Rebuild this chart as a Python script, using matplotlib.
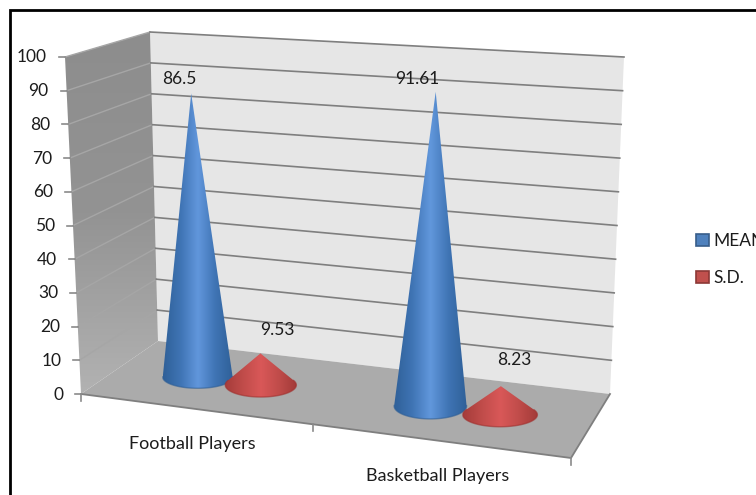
import numpy as np
import matplotlib
matplotlib.use('Agg')
import matplotlib.pyplot as plt
from matplotlib.colors import LinearSegmentedColormap
from matplotlib.patches import Polygon, PathPatch, Rectangle
from matplotlib.path import Path

categories = ['Football Players', 'Basketball Players']
series_names = ['MEAN', 'S.D.']
mean_values = [86.5, 91.61]
sd_values = [9.53, 8.23]
y_ticks = [0, 10, 20, 30, 40, 50, 60, 70, 80, 90, 100]

plt.rcParams['font.family'] = ['Lato', 'DejaVu Sans']
TEXT = '#1c1c1c'

# box corners in pixels: (floor point at value 0, same corner at value 100)
FRONT_LEFT = (np.array([81, 394.]), np.array([65, 57.]))
FRONT_RIGHT = (np.array([571, 458.]), np.array([587, 88.]))
BACK_LEFT = (np.array([158, 341.]), np.array([150, 32.]))
BACK_RIGHT = (np.array([610, 394.]), np.array([624, 57.]))


def project(u, d, v):
    # u runs along the category axis, d goes into the depth, v is the value
    t = v / 100
    pts = []
    for level in (0, 1):
        front = FRONT_LEFT[level] * (1 - u) + FRONT_RIGHT[level] * u
        back = BACK_LEFT[level] * (1 - u) + BACK_RIGHT[level] * u
        pts.append(front * (1 - d) + back * d)
    return pts[0] * (1 - t) + pts[1] * t


def gradient_fill(ax, path, cmap, vertical=False, zorder=2):
    x0, y0 = path.vertices.min(axis=0)
    x1, y1 = path.vertices.max(axis=0)
    ramp = np.linspace(0, 1, 256)
    ramp = ramp[:, None] if vertical else ramp[None, :]
    im = ax.imshow(ramp, cmap=cmap, vmin=0, vmax=1, aspect='auto',
                   extent=(x0, x1, y1, y0), zorder=zorder, interpolation='bilinear')
    clip = PathPatch(path, transform=ax.transData, fc='none', ec='none')
    ax.add_patch(clip)
    im.set_clip_path(clip)


def draw_cone(ax, u, value, rx, ry, cmap, edge, zorder):
    base = project(u, 0.5, 0)
    apex = project(u, 0.5, value)
    # tangent points from the apex onto the base ellipse
    nx, ny = (apex - base) / (rx, ry)
    dist = np.hypot(nx, ny)
    mid = np.arctan2(ny, nx)
    spread = np.arccos(1 / dist)
    angles = np.linspace(mid + spread, mid + 2 * np.pi - spread, 80)
    rim = np.column_stack([base[0] + rx * np.cos(angles), base[1] + ry * np.sin(angles)])
    verts = np.vstack([apex, rim, apex])
    path = Path(verts, closed=False)
    gradient_fill(ax, path, cmap, zorder=zorder)
    ax.plot(rim[:, 0], rim[:, 1], color=edge, lw=1.0, alpha=0.6, zorder=zorder + 0.1)
    return apex


fig = plt.figure(figsize=(7.56, 4.95), dpi=100)
ax = fig.add_axes([0, 0, 1, 1])
ax.axis('off')

# walls and floor
back_wall = [project(0, 1, 0), project(1, 1, 0), project(1, 1, 100), project(0, 1, 100)]
ax.add_patch(Polygon(back_wall, fc='#e6e6e6', ec='none', zorder=1))

side_wall = np.array([project(0, 0, 0), project(0, 1, 0), project(0, 1, 100), project(0, 0, 100)])
wall_cmap = LinearSegmentedColormap.from_list('wall', ['#8d8d8d', '#939393', '#b2b2b2'])
gradient_fill(ax, Path(np.vstack([side_wall, side_wall[:1]])), wall_cmap, vertical=True, zorder=1)

floor = [project(0, 0, 0), project(1, 0, 0), project(1, 1, 0), project(0, 1, 0)]
ax.add_patch(Polygon(floor, fc='#ababab', ec='none', zorder=1.2))
ax.plot(*np.array([project(0, 0, 0), project(1, 0, 0), project(1, 1, 0)]).T,
        color='#7f7f7f', lw=1.3, zorder=1.3)

# gridlines, ticks and value labels
for tick in y_ticks:
    front = project(0, 0, tick)
    back = project(0, 1, tick)
    right = project(1, 1, tick)
    if tick > 0:
        ax.plot(*np.array([front, back]).T, color='#a6a6a6', lw=1.0, zorder=1.4)
        ax.plot(*np.array([back, right]).T, color='#7f7f7f', lw=1.2, zorder=1.4)
    ax.plot([front[0] - 6, front[0]], [front[1], front[1]], color='#8a8a8a', lw=1.2, zorder=1.4)
    ax.text(front[0] - 18, front[1] + 0.5, str(tick), ha='right', va='center',
            fontsize=12.5, color=TEXT)

# category ticks and labels, the depth view squeezes the left half slightly
tick_pos = [0, 0.473, 1]
for u in tick_pos:
    p = project(u, 0, 0)
    ax.plot([p[0], p[0]], [p[1], p[1] + 7], color='#8a8a8a', lw=1.2, zorder=1.3)
for i, name in enumerate(categories):
    p = project((tick_pos[i] + tick_pos[i + 1]) / 2, 0, 0)
    ax.text(p[0] - 4.5, p[1] + 34.5, name, ha='center', va='center', fontsize=13, color=TEXT)

# cones, back to front along the category axis
blue_cmap = LinearSegmentedColormap.from_list('blue', ['#2f6098', '#3f74b4', '#6197dc', '#3f74b4', '#2f6098'])
red_cmap = LinearSegmentedColormap.from_list('red', ['#a53c3a', '#c04c4a', '#d95858', '#c04c4a', '#a23a38'])
n_cat = len(categories)
mean_pos = [0.166, 0.66]
sd_pos = [0.30, 0.808]
mean_offset = [(-12, -14), (-18, -13)]
sd_offset = [(17, -23), (13, -26)]
for i in range(n_cat):
    tip = draw_cone(ax, mean_pos[i], mean_values[i], 34.5 + 2.6 * mean_pos[i],
                    10.5 + 3.5 * mean_pos[i], blue_cmap, '#2f5f96', 2 + i)
    ax.text(tip[0] + mean_offset[i][0], tip[1] + mean_offset[i][1], str(mean_values[i]),
            ha='center', va='center', fontsize=12.5, color=TEXT, zorder=6)
    tip = draw_cone(ax, sd_pos[i], sd_values[i], 34.5 + 3.5 * sd_pos[i],
                    12, red_cmap, '#a0302e', 2.5 + i)
    ax.text(tip[0] + sd_offset[i][0], tip[1] + sd_offset[i][1], str(sd_values[i]),
            ha='center', va='center', fontsize=12.5, color=TEXT, zorder=6)

# legend
handles = [Rectangle((0, 0), 1, 1, fc='#4f81bd', ec='#385d8a', lw=1.2),
           Rectangle((0, 0), 1, 1, fc='#c0504d', ec='#8c3836', lw=1.2)]
ax.legend(handles, series_names, loc='upper left', bbox_to_anchor=(696 / 756, 1 - 233 / 495),
          frameon=False, fontsize=12.5, labelcolor=TEXT, handlelength=0.72, handleheight=0.72,
          handletextpad=0.3, labelspacing=1.2, borderpad=0, borderaxespad=0)

# outer frame, only the top and left edges fall inside the canvas
ax.plot([10, 10, 756], [495, 10, 10], color='black', lw=2.0, zorder=7, solid_joinstyle='miter')

ax.set_xlim(0, 756)
ax.set_ylim(495, 0)
fig.savefig('out.png', dpi=100)
